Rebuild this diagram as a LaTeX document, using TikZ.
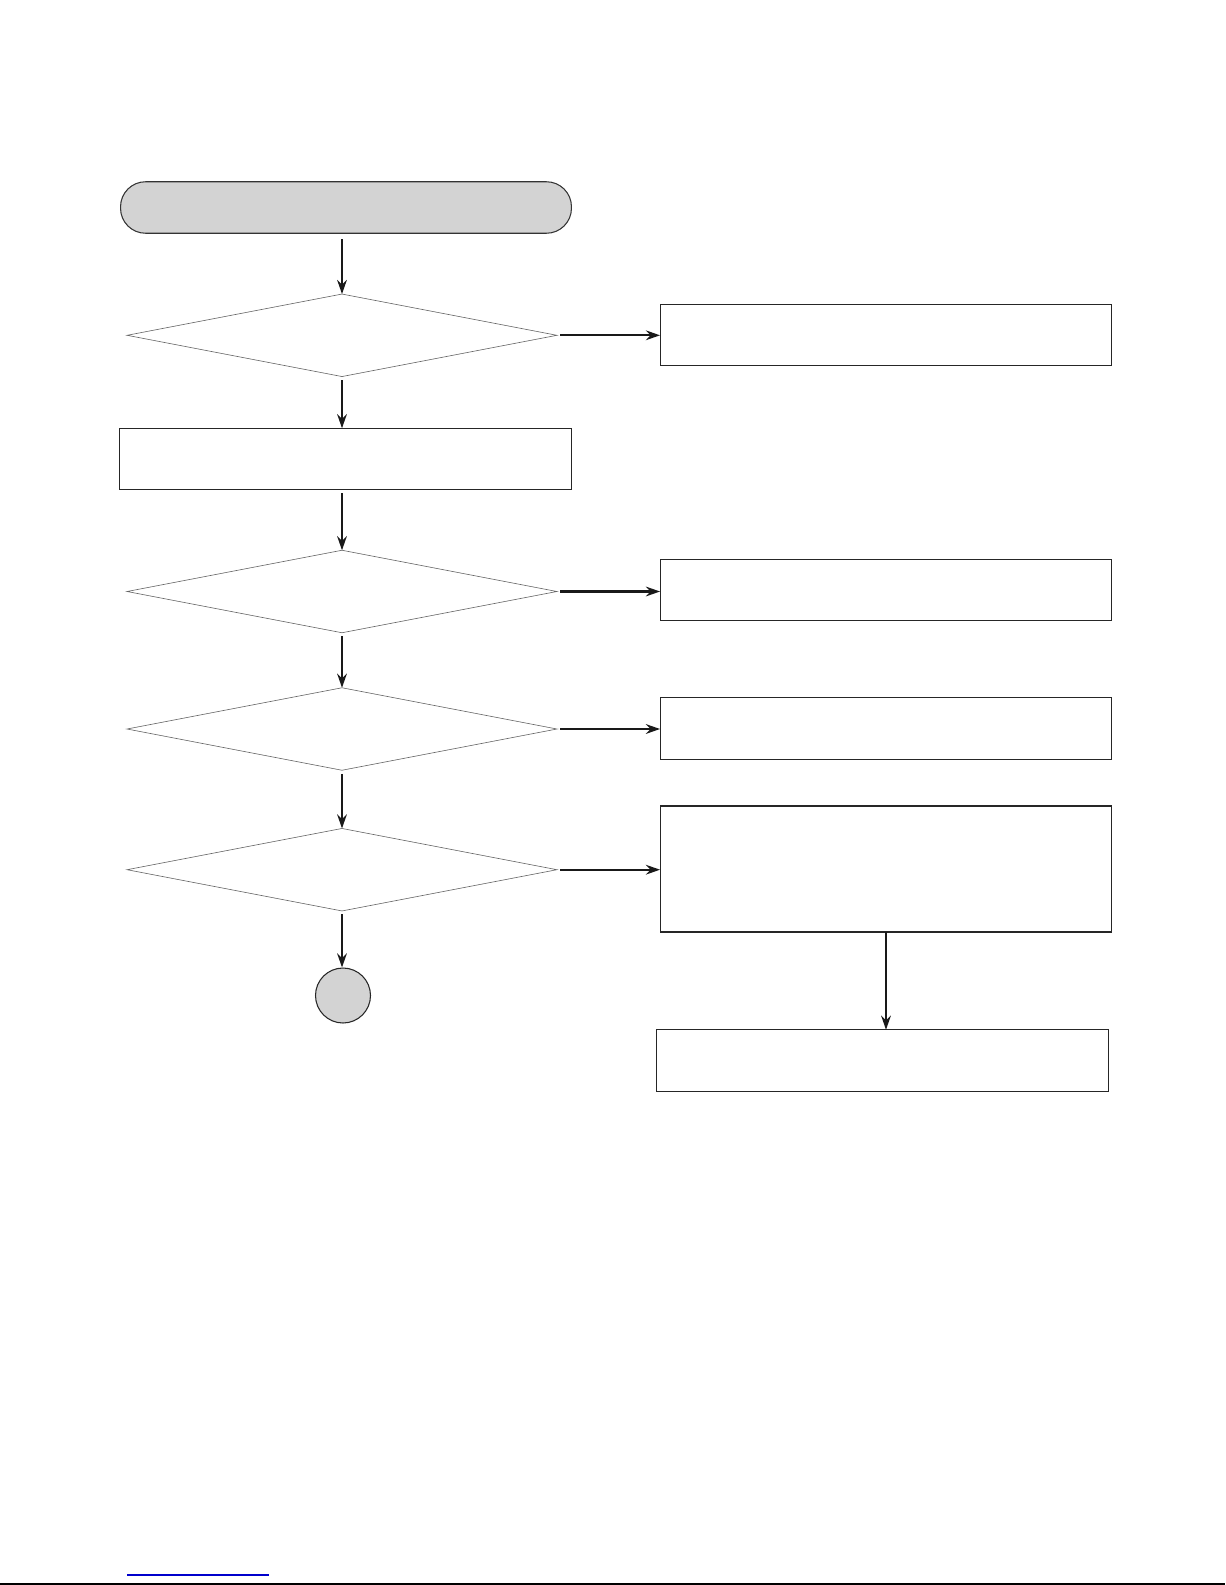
\documentclass[tikz,border=0pt]{standalone}
\usetikzlibrary{shapes.geometric, arrows.meta}
\definecolor{termgray}{HTML}{D3D3D3}
\definecolor{linkblue}{HTML}{0000CC}
\tikzset{
    arr/.style = {-{Stealth[length = 8pt, width = 5.5pt]}, line width = 1.3pt, draw = black!90},
    box/.style = {draw = black!85, line width = 0.6pt, minimum width = 9.04cm, minimum height = 1.23cm, inner sep = 0pt, outer sep = 0pt},
    test/.style = {diamond, draw = black!60, line width = 0.35pt, minimum width = 8.6cm, minimum height = 1.65cm, inner sep = 0pt, outer sep = 0pt}
}
\begin{document}
\begin{tikzpicture}[x = 0.02cm, y = -0.02cm]
            \useasboundingbox (0,0) rectangle (1225,1585);

            % Draw the start and the tests:
            \node [draw = black!80, line width = 0.6pt, fill = termgray, rounded corners = .5cm,
                minimum width = 9.02cm, minimum height = 1.03cm, inner sep = 0pt] (Start) at (346,207.5) {};
            \node [test] (TestA) at (342,335.3) {};
            \node [box] (Check) at (345.3,459) {};
            \node [test] (TestB) at (342,591.5) {};
            \node [test] (TestC) at (342,729) {};
            \node [test] (TestD) at (342,869.7) {};
            \node [circle, draw = black!85, line width = 0.6pt, fill = termgray, minimum size = 1.1cm, inner sep = 0pt] (Next) at (343,995.5) {};

            % Draw the boxes on the right:
            \node [box] (FixA) at (886,335.2) {};
            \node [box] (FixB) at (886,590) {};
            \node [box] (FixC) at (886,728.5) {};
            \node [box, minimum height = 2.52cm] (FixD) at (886,869) {};
            \node [box] (FixE) at (882.5,1060.5) {};

            % Draw the arrows down:
            \draw [arr, shorten < = 3pt] (TestA.north |- Start.south) -- (TestA.north);
            \draw [arr, shorten < = 2pt] (TestA.south) -- (TestA.south |- Check.north);
            \draw [arr, shorten < = 2pt] (TestB.north |- Check.south) -- (TestB.north);
            \foreach \from/\to in {TestB/TestC, TestC/TestD, TestD/Next}
                \draw [arr, shorten < = 2pt] (\from.south) -- (\from.south |- \to.north);
            \draw [arr] (FixD.south) -- (FixD.south |- FixE.north);

            % Draw the arrows to the right:
            \foreach \from/\to in {TestA/FixA, TestB/FixB, TestC/FixC, TestD/FixD}
                \draw [arr, shorten < = 2pt] (\from.east) -- (\from.east -| \to.west);

            % Draw the page rules:
            \draw [linkblue, line width = 0.6pt] (127,1575) -- (269,1575);
            \draw [black, line width = 0.9pt] (0,1584) -- (1225,1584);
        \end{tikzpicture}
\end{document}
